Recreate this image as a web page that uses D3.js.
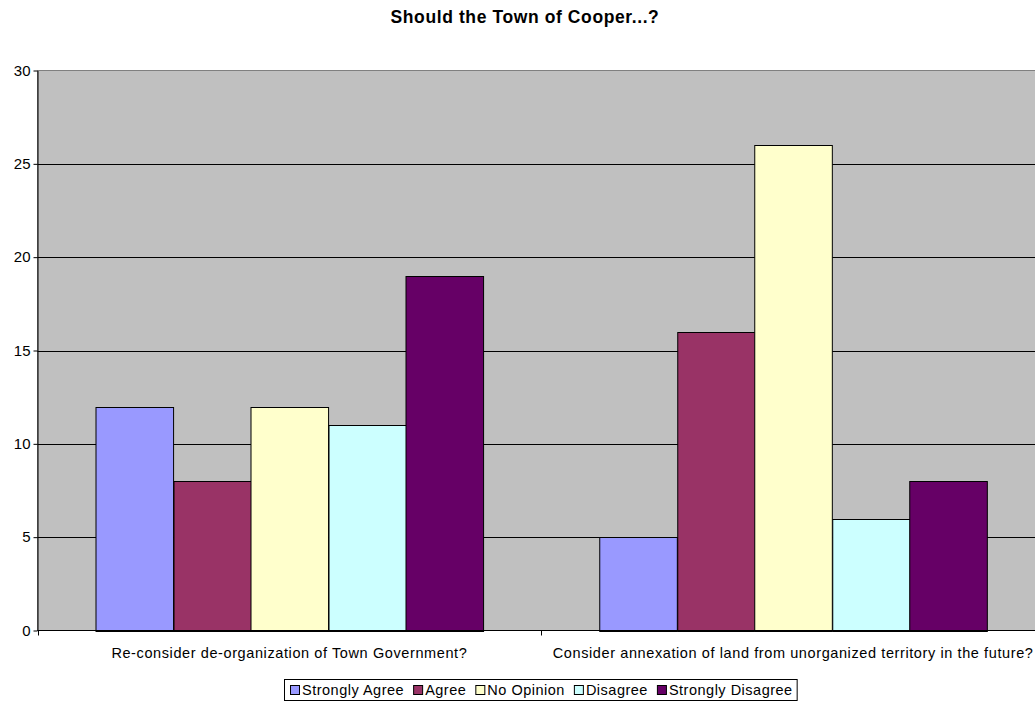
<!DOCTYPE html>
<html>
<head>
<meta charset="utf-8">
<script src="https://cdn.jsdelivr.net/npm/d3@7"></script>
<style>
  html, body { margin: 0; padding: 0; background: #fff; overflow: hidden; }
  svg { display: block; font-family: "Liberation Sans", Arial, sans-serif; }
</style>
</head>
<body>
<svg id="chart" width="1035" height="702"></svg>
<script>
// Survey question categories
const categories = [
  "Re-consider de-organization of Town Government?",
  "Consider annexation of land from unorganized territory in the future?"
];
// Response series
const seriesNames = ["Strongly Agree", "Agree", "No Opinion", "Disagree", "Strongly Disagree"];
const seriesColors = ["#9999FF", "#993366", "#FFFFCC", "#CCFFFF", "#660066"];
// Counts per series, one value per category
const stronglyAgree = [12, 5];
const agree = [8, 16];
const noOpinion = [12, 26];
const disagree = [11, 6];
const stronglyDisagree = [19, 8];
const yTicks = [0, 5, 10, 15, 20, 25, 30];

const seriesValues = [stronglyAgree, agree, noOpinion, disagree, stronglyDisagree];

const svg = d3.select("#chart");
const plot = { left: 37.5, right: 1045, top: 70.5, bottom: 630.5 };

const x0 = d3.scaleBand().domain(categories).range([plot.left, plot.right]).padding(0);
const groupW = x0.bandwidth();
const x1 = d3.scaleBand().domain(seriesNames)
  .range([groupW * 0.115, groupW * 0.885]).padding(0);
const y = d3.scaleLinear().domain([0, 30]).range([plot.bottom, plot.top]);

// Title
svg.append("text")
  .attr("x", 525).attr("y", 23)
  .attr("text-anchor", "middle")
  .style("font-weight", "bold").style("font-size", "17.5px")
  .style("letter-spacing", "0.6px")
  .text("Should the Town of Cooper...?");

// Plot background
svg.append("rect")
  .attr("x", plot.left).attr("y", plot.top)
  .attr("width", plot.right - plot.left).attr("height", plot.bottom - plot.top)
  .attr("fill", "#C0C0C0").attr("stroke", "#808080").attr("stroke-width", 1);

// Gridlines
svg.append("g").selectAll("line")
  .data(yTicks.filter(d => d > 0 && d < 30))
  .join("line")
  .attr("x1", plot.left).attr("x2", plot.right)
  .attr("y1", d => Math.round(y(d)) + 0.5).attr("y2", d => Math.round(y(d)) + 0.5)
  .attr("stroke", "#000").attr("stroke-width", 1);

// Bars
const groups = svg.append("g").selectAll("g")
  .data(categories)
  .join("g")
  .attr("transform", d => `translate(${x0(d)},0)`);

groups.selectAll("rect")
  .data((c, ci) => seriesNames.map((s, si) => ({ s, si, v: seriesValues[si][ci] })))
  .join("rect")
  .attr("x", d => Math.round(x1(d.s)) + 0.5)
  .attr("y", d => Math.round(y(d.v)) + 0.5)
  .attr("width", x1.bandwidth())
  .attr("height", d => Math.round(y(0)) - Math.round(y(d.v)))
  .attr("fill", d => seriesColors[d.si])
  .attr("stroke", "#000").attr("stroke-width", 1);

// Y axis
const yAxis = d3.axisLeft(y).tickValues(yTicks).tickSize(4).tickSizeOuter(0).tickPadding(3);
const yg = svg.append("g").attr("transform", `translate(${plot.left},0)`).call(yAxis);
yg.select(".domain").attr("stroke", "#000");
yg.selectAll(".tick line").attr("stroke", "#000");
yg.selectAll("text").style("font-size", "15px").attr("fill", "#000")
  .style("font-family", "'Liberation Sans', Arial, sans-serif");

// X axis with ticks at category boundaries
svg.append("line")
  .attr("x1", plot.left).attr("x2", plot.right)
  .attr("y1", plot.bottom).attr("y2", plot.bottom)
  .attr("stroke", "#000");
const boundaries = categories.map(c => x0(c));
svg.append("g").selectAll("line")
  .data(boundaries)
  .join("line")
  .attr("x1", d => Math.round(d) + 0.5).attr("x2", d => Math.round(d) + 0.5)
  .attr("y1", plot.bottom).attr("y2", plot.bottom + 5)
  .attr("stroke", "#000");

svg.append("g").selectAll("text")
  .data(categories)
  .join("text")
  .attr("x", d => x0(d) + groupW / 2)
  .attr("y", 658)
  .attr("text-anchor", "middle")
  .style("font-size", "14.5px")
  .style("letter-spacing", "0.6px")
  .text(d => d);

// Legend
const legend = svg.append("g");
const legendBox = legend.append("rect")
  .attr("fill", "#fff").attr("stroke", "#000");
const items = legend.append("g");
let lx = 0;
seriesNames.forEach((name, i) => {
  items.append("rect")
    .attr("x", lx + 0.5).attr("y", 685.5).attr("width", 9).attr("height", 9)
    .attr("fill", seriesColors[i]).attr("stroke", "#000");
  const t = items.append("text")
    .attr("x", lx + 12).attr("y", 695)
    .style("font-size", "14.5px")
    .style("letter-spacing", "0.5px")
    .text(name);
  lx += 12 + t.node().getComputedTextLength() + 9;
});
const contentW = lx - 9;
const startX = Math.round(541 - contentW / 2);
items.attr("transform", `translate(${startX},0)`);
legendBox
  .attr("x", startX - 5.5).attr("y", 679.5)
  .attr("width", contentW + 10).attr("height", 21);
</script>
</body>
</html>
